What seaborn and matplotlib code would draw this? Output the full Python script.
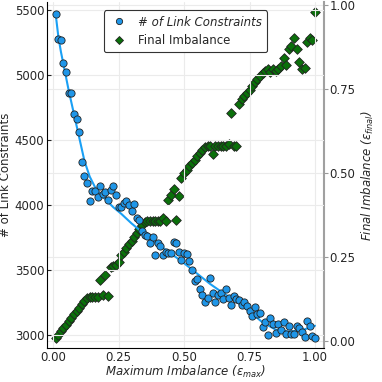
import numpy as np
import pandas as pd
import matplotlib
matplotlib.use('Agg')
import matplotlib.pyplot as plt
import seaborn as sns
from matplotlib.lines import Line2D

# maximum imbalance values (x axis)
eps_max = [round(0.01 * i, 2) for i in range(1, 101)]

# number of link constraints (left axis)
link_constraints = [
    5470, 5275, 5265, 5090, 5025, 4865, 4860, 4700, 4665, 4560,
    4330, 4225, 4170, 4035, 4110, 4110, 4065, 4150, 4085, 4105,
    4040, 4120, 4150, 4080, 3990, 3990, 4020, 4030, 4000, 3955,
    4010, 3900, 3885, 3800, 3770, 3760, 3710, 3755, 3615, 3710,
    3685, 3615, 3640, 3635, 3630, 3720, 3710, 3640, 3580, 3630,
    3625, 3570, 3505, 3415, 3430, 3360, 3310, 3260, 3285, 3440,
    3330, 3260, 3310, 3325, 3280, 3355, 3285, 3235, 3305, 3280,
    3270, 3235, 3260, 3225, 3190, 3150, 3220, 3165, 3170, 3065,
    3100, 3000, 3135, 3085, 3020, 3085, 3040, 3105, 3015, 3075,
    3015, 3015, 3075, 3055, 3030, 2990, 3115, 3070, 2995, 2980,
]

# final imbalance (right axis)
final_imb = [
    0.01, 0.02, 0.03, 0.04, 0.05, 0.06, 0.07, 0.08, 0.09, 0.10,
    0.11, 0.12, 0.13, 0.133, 0.133, 0.133, 0.132, 0.181, 0.139, 0.198,
    0.134, 0.220, 0.223, 0.226, 0.235, 0.257, 0.267, 0.277, 0.288, 0.298,
    0.310, 0.322, 0.334, 0.346, 0.355, 0.358, 0.358, 0.358, 0.358, 0.358,
    0.359, 0.366, 0.359, 0.421, 0.434, 0.454, 0.360, 0.433, 0.487, 0.500,
    0.510, 0.520, 0.530, 0.540, 0.550, 0.560, 0.570, 0.578, 0.580, 0.580,
    0.556, 0.580, 0.580, 0.581, 0.580, 0.582, 0.586, 0.679, 0.581, 0.581,
    0.706, 0.719, 0.728, 0.738, 0.748, 0.758, 0.770, 0.779, 0.789, 0.797,
    0.804, 0.809, 0.801, 0.811, 0.804, 0.809, 0.819, 0.843, 0.820, 0.870,
    0.877, 0.902, 0.870, 0.830, 0.809, 0.812, 0.889, 0.902, 0.895, 0.980,
]

# fitted trend for link constraints
fit_x = [0.01, 0.02, 0.03, 0.04, 0.05, 0.06, 0.07, 0.08, 0.09, 0.10,
         0.12, 0.14, 0.16, 0.18, 0.20, 0.23, 0.26, 0.30, 0.33, 0.36,
         0.40, 0.45, 0.50, 0.55, 0.60, 0.65, 0.70, 0.75, 0.80, 0.85,
         0.90, 0.95, 1.00]
fit_y = [5470, 5300, 5180, 5080, 4980, 4880, 4790, 4700, 4610, 4520,
         4340, 4220, 4140, 4085, 4045, 3985, 3935, 3860, 3810, 3760,
         3700, 3630, 3555, 3475, 3395, 3325, 3260, 3185, 3100, 3045,
         3030, 3040, 3075]

df = pd.DataFrame({'eps_max': eps_max, 'links': link_constraints, 'final': final_imb})
fit = pd.DataFrame({'x': fit_x, 'y': fit_y})

sns.set_style('whitegrid', {'grid.color': '#ebebeb', 'axes.edgecolor': 'black'})
plt.rcParams['font.family'] = ['DejaVu Sans']
plt.rcParams['mathtext.fontset'] = 'dejavusans'

blue = '#1f96e8'
green = '#0a700a'

fig = plt.figure(figsize=(3.82, 3.82), dpi=100)
ax = fig.add_axes([0.123, 0.088, 0.725, 0.907])
ax2 = ax.twinx()

sns.lineplot(data=fit, x='x', y='y', ax=ax, color='#1aa0f5', linewidth=1.5, zorder=2)
sns.scatterplot(data=df, x='eps_max', y='links', ax=ax, color=blue, marker='o',
                s=27, edgecolor='#222222', linewidth=0.6, zorder=3)
sns.scatterplot(data=df, x='eps_max', y='final', ax=ax2, color=green, marker='D',
                s=24, edgecolor='#222222', linewidth=0.6, zorder=3)

ax.set_xlim(-0.023, 1.034)
ax.set_ylim(2901, 5561)
ax2.set_ylim(-0.021, 1.009)
ax.set_xticks([0.0, 0.25, 0.5, 0.75, 1.0])
ax.set_xticklabels(['0.00', '0.25', '0.50', '0.75', '1.00'])
ax.set_yticks([3000, 3500, 4000, 4500, 5000, 5500])
ax2.set_yticks([0.0, 0.25, 0.5, 0.75, 1.0])
ax2.set_yticklabels(['0.00', '0.25', '0.50', '0.75', '1.00'])
ax2.grid(True, color='#ebebeb', linewidth=0.8)
ax.grid(True, color='#ebebeb', linewidth=0.8)
ax.set_zorder(ax2.get_zorder() + 1)
ax.patch.set_visible(False)

ax.tick_params(axis='both', labelsize=8.5, length=3, direction='in', pad=2)
ax2.tick_params(axis='y', labelsize=8.5, length=3, direction='out', pad=1, color='#999999')

ax.set_xlabel(r'Maximum Imbalance ($\varepsilon_{max}$)', fontsize=8.5, style='italic', labelpad=0)
ax.set_ylabel('# of Link Constraints', fontsize=8.5, labelpad=2)
ax2.set_ylabel(r'Final Imbalance ($\varepsilon_{final}$)', fontsize=8.5, style='italic', labelpad=3)

for a in (ax, ax2):
    a.spines['top'].set_visible(False)
    a.spines['left'].set_color('black')
    a.spines['bottom'].set_color('black')
    a.spines['right'].set_color('#a0a0a0')
    a.spines['right'].set_linewidth(1.5)
ax.spines['right'].set_visible(False)
ax2.spines['left'].set_visible(False)
ax2.spines['bottom'].set_visible(False)

handles = [
    Line2D([], [], marker='o', linestyle='', color=blue, markeredgecolor='#222222',
           markeredgewidth=0.6, markersize=4.5),
    Line2D([], [], marker='D', linestyle='', color=green, markeredgecolor='#222222',
           markeredgewidth=0.6, markersize=4),
]
leg = ax.legend(handles, ['# of Link Constraints', 'Final Imbalance'], loc='upper center',
                bbox_to_anchor=(0.5, 0.993), fontsize=8.5, frameon=True, fancybox=True,
                edgecolor='#333333', framealpha=1, handletextpad=0.8, borderpad=0.45,
                labelspacing=0.45, handlelength=1.6)
leg.get_texts()[0].set_style('italic')
leg.get_frame().set_linewidth(0.8)

fig.savefig('out.png', dpi=100)
